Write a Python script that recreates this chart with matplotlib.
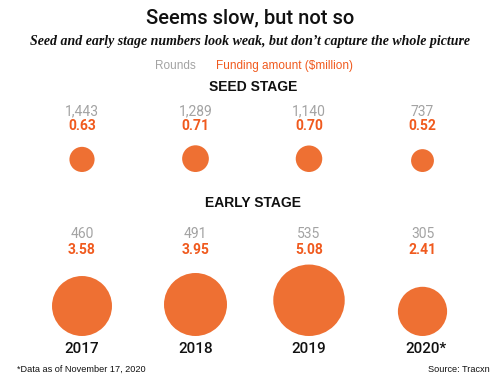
import numpy as np
import matplotlib
matplotlib.use("Agg")
import matplotlib.pyplot as plt

years = ["2017", "2018", "2019", "2020*"]
seed_rounds = ["1,443", "1,289", "1,140", "737"]
seed_funding = [0.63, 0.71, 0.70, 0.52]
early_rounds = ["460", "491", "535", "305"]
early_funding = [3.58, 3.95, 5.08, 2.41]

circle_col = "#EE7033"
orange_txt = "#F05A1E"
gray_txt = "#A3A3A3"

W, H = 500, 383
fig = plt.figure(figsize=(W / 100, H / 100), dpi=100)
ax = fig.add_axes([0, 0, 1, 1])
ax.set_xlim(0, W)
ax.set_ylim(H, 0)
ax.axis("off")

# column centres (pixels) and scale: diameter in px per sqrt($million)
col_x = 82 + 113.5 * np.arange(len(years))
k = 31.7

def px2pt(px):
    return px * 72 / fig.dpi

def bubbles(vals, base_y):
    vals = np.array(vals)
    d = k * np.sqrt(vals)
    ys = base_y - d / 2
    ax.scatter(col_x, ys, s=px2pt(d) ** 2, color=circle_col, edgecolors="none", zorder=2)

rob = ["Roboto", "DejaVu Sans"]
sans = ["Liberation Sans", "DejaVu Sans"]

ax.text(250, 18, "Seems slow, but not so", ha="center", va="center",
        fontsize=14.5, family=rob, weight="medium", color="#111111")
ax.text(250, 42, "Seed and early stage numbers look weak, but don\u2019t capture the whole picture",
        ha="center", va="center", fontsize=10, family=["Liberation Serif", "DejaVu Serif"],
        style="italic", weight="bold", color="#111111")
ax.text(175, 66, "Rounds", ha="center", va="center", fontsize=8.5, family=sans, color=gray_txt)
ax.text(284, 66, "Funding amount ($million)", ha="center", va="center", fontsize=8.5,
        family=sans, color=orange_txt)

ax.text(253, 87, "SEED STAGE", ha="center", va="center", fontsize=10,
        family=sans, weight="bold", color="#111111")
ax.text(253, 203, "EARLY STAGE", ha="center", va="center", fontsize=10,
        family=sans, weight="bold", color="#111111")

for i in range(len(years)):
    x = col_x[i]
    ax.text(x, 111.5, seed_rounds[i], ha="center", va="center", fontsize=10, family=rob, color=gray_txt)
    ax.text(x, 126.5, f"{seed_funding[i]:.2f}", ha="center", va="center", fontsize=10,
            family=rob, weight="bold", color=orange_txt)
    ax.text(x, 233.5, early_rounds[i], ha="center", va="center", fontsize=10, family=rob, color=gray_txt)
    ax.text(x, 250, f"{early_funding[i]:.2f}", ha="center", va="center", fontsize=10,
            family=rob, weight="bold", color=orange_txt)
    ax.text(x + (4 if years[i].endswith("*") else 0), 349, years[i], ha="center", va="center",
            fontsize=11, family=rob, weight="medium", color="#111111")

bubbles(seed_funding, 172)
bubbles(early_funding, 336)

ax.text(17, 369, "*Data as of November 17, 2020", ha="left", va="center", fontsize=6.6,
        family=sans, color="#111111")
ax.text(490, 369, "Source: Tracxn", ha="right", va="center", fontsize=6.6,
        family=sans, color="#111111")

fig.savefig("out.png", dpi=100)
